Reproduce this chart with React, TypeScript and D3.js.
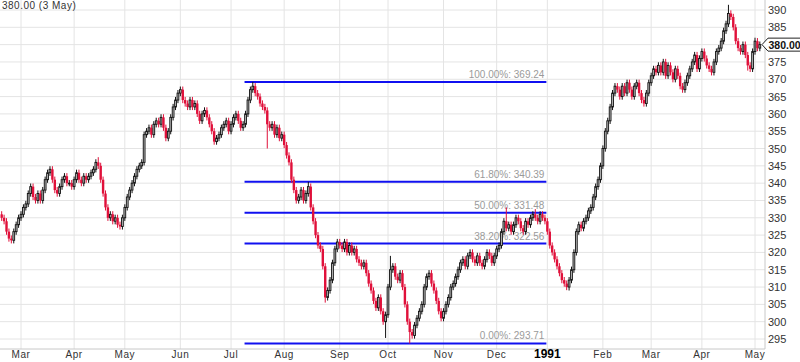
import React from "react";
import * as d3 from "d3";

// Daily closes, first trading day 1990-02-19 (weekdays), last 1991-05-03
const startDate = "1990-02-19";
const closes = [
  330, 329, 326, 324,
  323.5, 326, 328, 330,
  331, 333, 334, 337,
  339, 336, 335, 337,
  335, 338, 341, 343,
  344, 341, 338, 337,
  339, 341, 342, 340,
  340, 339, 341, 343,
  341, 340, 342, 341,
  342, 343, 344, 346, 345,
  341, 337, 333, 330,
  331, 329, 330, 328,
  327.5, 330, 333, 336,
  338, 340, 342, 344,
  345, 346, 354, 355,
  356, 354, 357, 358,
  357, 359, 356, 353,
  355, 359, 362, 364, 366,
  367, 364, 363, 362,
  364, 362, 363, 360,
  358, 360, 361, 359,
  357, 355, 352, 353, 354,
  356, 357, 358, 355,
  357, 359, 360, 358,
  356, 357, 360, 364,
  367, 368, 366, 365,
  363, 362, 361, 357,
  356, 357, 354, 356, 353,
  354, 351, 348, 346,
  341, 338, 335, 336,
  338, 335, 337, 339,
  333, 329, 325, 322,
  321, 316, 307, 309, 312,
  317, 321, 323, 322,
  321, 323, 320, 322,
  320, 321, 318, 317,
  316, 317, 314, 311,
  309, 306, 304, 307,
  303, 300, 302, 310, 315,
  316, 313, 312, 314,
  310, 305, 300, 297,
  296, 299, 301, 303,
  305, 310, 313, 314,
  311, 309, 306, 303,
  301, 303, 305, 307,
  310, 311, 313, 315,
  317, 318, 316, 319, 320,
  318, 317, 319, 317,
  316, 318, 320, 319,
  317, 319, 321, 322,
  326, 329, 327, 328,
  326, 328, 330, 329,
  327, 326, 329, 328, 330,
  331, 330, 329, 331,
  330, 329, 326, 322,
  320, 318, 316, 314,
  312, 311, 310, 312,
  315, 320, 326, 328,
  327, 329, 330, 332,
  333, 336, 339, 341,
  345, 350, 355, 358,
  362, 366, 368, 367, 365,
  368, 366, 369, 367,
  365, 368, 369, 366,
  364, 363, 366, 369,
  371, 373, 372, 374,
  372, 375, 371, 374,
  372, 370, 373, 371,
  368, 367, 369, 371, 373,
  375, 377, 373, 376,
  378, 376, 374, 373,
  372, 375, 378, 379,
  381, 384, 386, 389,
  388, 385, 381, 379,
  378, 380, 377, 374, 373,
  378, 381, 379, 380,
];
const firstOpen = 331;
// notable wick extremes: [index, value]
const highSpikes: [number, number][] = [
  [40, 347.5], [104, 369.24], [127, 340.4], [161, 319], [209, 333], [221, 332.5], [301, 391.5], [312, 382],
];
const lowSpikes: [number, number][] = [
  [110, 350], [134, 305.5], [159, 295.3], [169, 293.71], [235, 309], [309, 372.5],
];

const yTicks = [295, 300, 305, 310, 315, 320, 325, 330, 335, 340, 345, 350, 355, 360, 365, 370, 375, 380, 385, 390];
const fibLabels = ["100.00%", "61.80%", "50.00%", "38.20%", "0.00%"];
const fibValues = [369.24, 340.39, 331.48, 322.56, 293.71];
const fibStartIndex = 101;
const fibEndDate = "1991-01-01";
const lastValue = 380;
const lastLabel = "380.00";
const titleText = "380.00 (3 May)";

const W = 800, H = 362;
const plotRight = 765, plotBottom = 349;
const UP_STROKE = "#111", UP_FILL = "#bdbdbd", DOWN = "#e0103a";
const FONT = "'Liberation Sans', Arial, Helvetica, sans-serif";

export default function App() {
  const parse = d3.timeParse("%Y-%m-%d");
  const dates: Date[] = [];
  let d = parse(startDate)!;
  while (dates.length < closes.length) {
    const wd = d.getDay();
    if (wd !== 0 && wd !== 6) dates.push(d);
    d = d3.timeDay.offset(d, 1);
  }
  const hiMap = new Map(highSpikes);
  const loMap = new Map(lowSpikes);
  const bars = closes.map((c, i) => {
    const o = i === 0 ? firstOpen : closes[i - 1];
    const top = Math.max(o, c), bot = Math.min(o, c);
    return {
      i, o, c,
      h: hiMap.has(i) ? hiMap.get(i)! : top + 0.9,
      l: loMap.has(i) ? loMap.get(i)! : bot - 0.9,
    };
  });

  const idxOf = (dt: Date) => dates.findIndex((x) => x >= dt);
  const iMar = idxOf(parse("1990-03-01")!);
  const iMay = idxOf(parse("1991-05-01")!);
  const x = d3.scaleLinear().domain([iMar, iMay]).range([21, 755]);
  const y = d3.scaleLinear().domain([295, 390]).range([339, 10]);

  const months = d3.timeMonth.range(parse("1990-03-01")!, parse("1991-05-02")!);
  const monthTicks = months.map((m) => ({ m, i: idxOf(m) }));

  const fibX0 = x(fibStartIndex) - 1;
  const fibX1 = x(idxOf(parse(fibEndDate)!)) - 1;

  const bw = 1.8;
  const yl = y(lastValue);
  return (
    <svg width={W} height={H} style={{ position: "absolute", left: 0, top: 0, background: "#fff" }} fontFamily={FONT}>
      <rect x={0} y={0} width={W} height={H} fill="#fff" />
      {/* grid */}
      {yTicks.map((t) => (
        <line key={"h" + t} x1={0} x2={plotRight} y1={y(t)} y2={y(t)} stroke="#e4e4e4" strokeWidth={1} />
      ))}
      {monthTicks.map(({ m, i }) => (
        <line key={"v" + m.getTime()} x1={x(i)} x2={x(i)} y1={0} y2={plotBottom} stroke="#e4e4e4" strokeWidth={1} />
      ))}
      <line x1={plotRight} x2={plotRight} y1={0} y2={plotBottom} stroke="#c8c8c8" />
      <line x1={0} x2={plotRight} y1={plotBottom} y2={plotBottom} stroke="#c8c8c8" />

      {/* fib lines */}
      {fibValues.map((v, k) => (
        <g key={"f" + k}>
          <line x1={fibX0} x2={fibX1} y1={y(v)} y2={y(v)} stroke="#1010f0" strokeWidth={2} />
          <text x={fibX1 - 2} y={y(v) - 4} textAnchor="end" fontSize={10} fill="#9a9a9a">
            {fibLabels[k] + ": " + v.toFixed(2)}
          </text>
        </g>
      ))}

      {/* candles */}
      {bars.map((b) => {
        const cx = x(b.i);
        const up = b.c >= b.o;
        const col = up ? UP_STROKE : DOWN;
        const yt = y(Math.max(b.o, b.c)), yb = y(Math.min(b.o, b.c));
        return (
          <g key={"c" + b.i}>
            <line x1={cx} x2={cx} y1={y(b.h)} y2={y(b.l)} stroke={col} strokeWidth={1} />
            {up ? (
              <rect x={cx - bw / 2} y={yt} width={bw} height={Math.max(yb - yt, 0.8)} fill={UP_FILL} stroke={UP_STROKE} strokeWidth={0.9} />
            ) : (
              <rect x={cx - 1.2} y={yt} width={2.4} height={Math.max(yb - yt, 1)} fill={DOWN} />
            )}
          </g>
        );
      })}

      {/* y axis labels */}
      {yTicks.filter((t) => t !== lastValue).map((t) => (
        <text key={"yl" + t} x={768} y={y(t) + 4} fontSize={11} fill="#333">
          {t}
        </text>
      ))}
      {/* last value tag */}
      <path
        d={`M${plotRight - 3},${yl} L${plotRight + 3},${yl - 6.5} L${W + 2},${yl - 6.5} L${W + 2},${yl + 6.5} L${plotRight + 3},${yl + 6.5} Z`}
        fill="#fff"
        stroke="#222"
        strokeWidth={1}
      />
      <text x={plotRight + 3.5} y={yl + 4} fontSize={10.5} fontWeight="bold" fill="#111">
        {lastLabel}
      </text>

      {/* x axis labels */}
      {monthTicks.map(({ m, i }) => {
        const isYear = m.getMonth() === 0;
        return (
          <text
            key={"xl" + m.getTime()}
            x={x(i)}
            y={358}
            textAnchor="middle"
            fontSize={isYear ? 12 : 10}
            fontWeight={isYear ? "bold" : "normal"}
            fill={isYear ? "#000" : "#333"}
            letterSpacing={isYear ? 0 : 0.6}
          >
            {isYear ? d3.timeFormat("%Y")(m) : d3.timeFormat("%b")(m)}
          </text>
        );
      })}

      <text x={2} y={8.5} fontSize={10} fill="#333" letterSpacing={0.5}>
        {titleText}
      </text>
    </svg>
  );
}
